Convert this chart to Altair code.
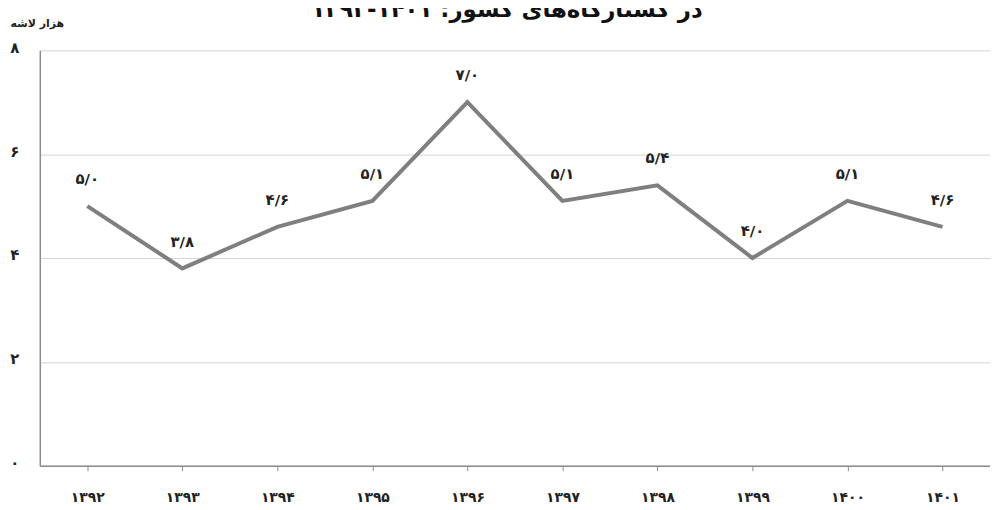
import altair as alt
import pandas as pd

years = ["۱۳۹۲", "۱۳۹۳", "۱۳۹۴", "۱۳۹۵", "۱۳۹۶", "۱۳۹۷", "۱۳۹۸", "۱۳۹۹", "۱۴۰۰", "۱۴۰۱"]
values = [5.0, 3.8, 4.6, 5.1, 7.0, 5.1, 5.4, 4.0, 5.1, 4.6]
value_labels = ["۵/۰", "۳/۸", "۴/۶", "۵/۱", "۷/۰", "۵/۱", "۵/۴", "۴/۰", "۵/۱", "۴/۶"]
y_ticks = [0, 2, 4, 6, 8]
persian_digits = ["۰", "۱", "۲", "۳", "۴", "۵", "۶", "۷", "۸", "۹"]
title_text = "در کشتارگاه‌های کشور: ۱۴۰۱-۱۳۹۲"
y_title = "هزار لاشه"

FONT = "DejaVu Sans"

df = pd.DataFrame({"year": years, "value": values, "label": value_labels})

digit_array = "[" + ",".join("'" + d + "'" for d in persian_digits) + "]"

x_enc = alt.X(
    "year:N",
    sort=years,
    scale=alt.Scale(type="point", padding=0.5),
    axis=alt.Axis(
        title=None,
        labelAngle=0,
        labelFont=FONT,
        labelFontSize=14,
        labelFontWeight="bold",
        labelColor="#222222",
        labelPadding=20,
        tickSize=5,
        tickColor="#8c8c8c",
        domainColor="#8c8c8c",
        domainWidth=1.5,
        grid=False,
    ),
)

y_enc = alt.Y(
    "value:Q",
    scale=alt.Scale(domain=[0, 8], nice=False),
    axis=alt.Axis(
        values=y_ticks,
        labelExpr=digit_array + "[datum.value]",
        labelFont=FONT,
        labelFontSize=15,
        labelFontWeight="bold",
        labelColor="#222222",
        labelPadding=21,
        labelBaseline="middle",
        labelOffset=-3,
        ticks=False,
        domainColor="#8c8c8c",
        domainWidth=1.5,
        gridColor="#d4d4d4",
        gridWidth=1,
        title=y_title,
        titleFont=FONT,
        titleFontSize=11,
        titleFontWeight="bold",
        titleColor="#222222",
        titleAngle=0,
        titleAlign="left",
        titleBaseline="middle",
        titleX=-30,
        titleY=-27,
    ),
)

base = alt.Chart(df)

line = base.mark_line(color="#7f7f7f", strokeWidth=4, strokeJoin="miter").encode(x=x_enc, y=y_enc)

labels = base.mark_text(
    font=FONT, fontSize=15, fontWeight="bold", color="#222222", dy=-27, baseline="middle"
).encode(x=alt.X("year:N", sort=years), y="value:Q", text="label:N")

title = alt.Chart(pd.DataFrame({"t": [title_text]})).mark_text(
    font=FONT, fontSize=23, fontWeight="bold", color="#111111", align="center", baseline="alphabetic", dir="rtl"
).encode(text="t:N", x=alt.value(470), y=alt.value(-33))

chart = (
    alt.layer(line, labels, title)
    .properties(
        width=956,
        height=418,
        autosize=alt.AutoSizeParams(type="none"),
        padding={"left": 32, "top": 41, "right": 0, "bottom": 43},
    )
    .configure_view(stroke=None)
)

chart.save("out.html", embed_options={"renderer": "svg", "actions": False})
